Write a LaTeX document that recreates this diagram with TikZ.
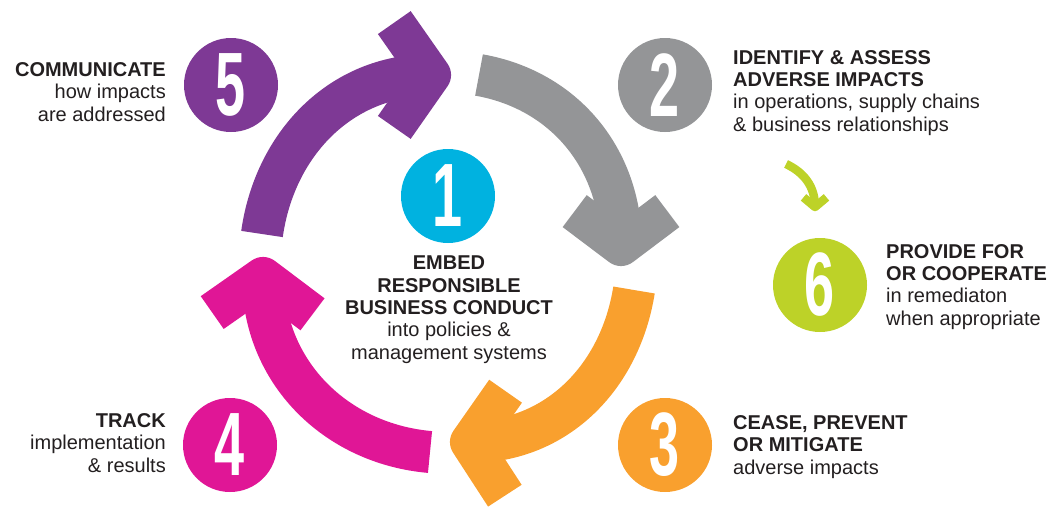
\documentclass[tikz,border=0pt]{standalone}
\usepackage{fontspec}
\setmainfont{Liberation Sans}
\usetikzlibrary{calc}
\definecolor{cPurple}{RGB}{126,57,149}
\definecolor{cGray}{RGB}{148,149,151}
\definecolor{cCyan}{RGB}{0,178,224}
\definecolor{cMagenta}{RGB}{224,22,150}
\definecolor{cOrange}{RGB}{249,160,46}
\definecolor{cLime}{RGB}{189,210,40}
\definecolor{cText}{RGB}{35,31,32}
\begin{document}
\begin{tikzpicture}[x=1pt,y=-1pt,
  numcircle/.style={circle, minimum size=94pt, inner sep=0pt, fill=#1},
  digit/.style={text=white, font=\fontsize{90}{90}\selectfont\bfseries, inner sep=0pt},
  lbl/.style={text=cText, font=\fontsize{20}{22.3}\selectfont, inner sep=0pt},
  shaft/.style={line width=42pt, draw=#1, line cap=butt},
  head/.style={line width=40pt, draw=#1, line join=round, line cap=butt},
  smallshaft/.style={line width=8.5pt, draw=#1, line cap=butt},
  smallhead/.style={line width=8.5pt, draw=#1, line join=round, line cap=butt},
]
\useasboundingbox (0,0) rectangle (1048,517);

% big arrows (to-path angles are in canvas orientation, y up)
\coordinate (pS) at (262,234); \coordinate (pE) at (431,75);
\draw[shaft=cPurple] (pS) to[out=82,in=180] (pE);
\draw[head=cPurple] ($(pE)+(235:64)$) -- (pE) -- ($(pE)+(125:64)$);

\coordinate (gS) at (479,75); \coordinate (gE) at (621,246);
\draw[shaft=cGray] (gS) to[out=350,in=90] (gE);
\draw[head=cGray] ($(gE)+(217:58)$) -- (gE) -- ($(gE)+(323:58)$);

\coordinate (oS) at (634,290); \coordinate (oE) at (470,442);
\draw[shaft=cOrange] (oS) to[out=261,in=0] (oE);
\draw[head=cOrange] ($(oE)+(305:62)$) -- (oE) -- ($(oE)+(57:64)$);

\coordinate (mS) at (430,452); \coordinate (mE) at (263,277);
\draw[shaft=cMagenta] (mS) to[out=175,in=270] (mE);
\draw[head=cMagenta] ($(mE)+(37:62)$) -- (mE) -- ($(mE)+(145:62)$);

% small green arrow
\coordinate (lS) at (786,164); \coordinate (lE) at (815,207);
\draw[smallshaft=cLime] (lS) to[out=335,in=90] (lE);
\draw[smallhead=cLime] ($(lE)+(220:15)$) -- (lE) -- ($(lE)+(320:15)$);

% number circles
\node[numcircle=cCyan] (c1) at (448,196) {};
\node[numcircle=cGray] (c2) at (665,85) {};
\node[numcircle=cOrange] (c3) at (665,445) {};
\node[numcircle=cMagenta] (c4) at (230,445) {};
\node[numcircle=cPurple] (c5) at (231,85) {};
\node[numcircle=cLime] (c6) at (820,285) {};
\node[digit] (d1) at (c1) {\scalebox{0.6}[1]{1}};
\node[digit] (d2) at (c2) {\scalebox{0.6}[1]{2}};
\node[digit] (d3) at (c3) {\scalebox{0.6}[1]{3}};
\node[digit] (d4) at (c4) {\scalebox{0.6}[1]{4}};
\node[digit] (d5) at (c5) {\scalebox{0.6}[1]{5}};
\node[digit] (d6) at (c6) {\scalebox{0.6}[1]{6}};

% labels (base anchor = baseline of last line)
\node[lbl, align=right, anchor=base east] (t5) at (166,121)
  {\textbf{COMMUNICATE}\\how impacts\\are addressed};
\node[lbl, align=left, anchor=base west] (t2) at (733,131)
  {\textbf{IDENTIFY \& ASSESS}\\\textbf{ADVERSE IMPACTS}\\in operations, supply chains\\\& business relationships};
\node[lbl, align=center, anchor=base] (t1) at (449,359)
  {\textbf{EMBED}\\\textbf{RESPONSIBLE}\\\textbf{BUSINESS CONDUCT}\\into policies \&\\management systems};
\node[lbl, align=left, anchor=base west] (t6) at (886,325)
  {\textbf{PROVIDE FOR}\\\textbf{OR COOPERATE}\\in remediaton\\when appropriate};
\node[lbl, align=left, anchor=base west] (t3) at (733,474)
  {\textbf{CEASE, PREVENT}\\\textbf{OR MITIGATE}\\adverse impacts};
\node[lbl, align=right, anchor=base east] (t4) at (166,472)
  {\textbf{TRACK}\\implementation\\\& results};
\end{tikzpicture}
\end{document}
